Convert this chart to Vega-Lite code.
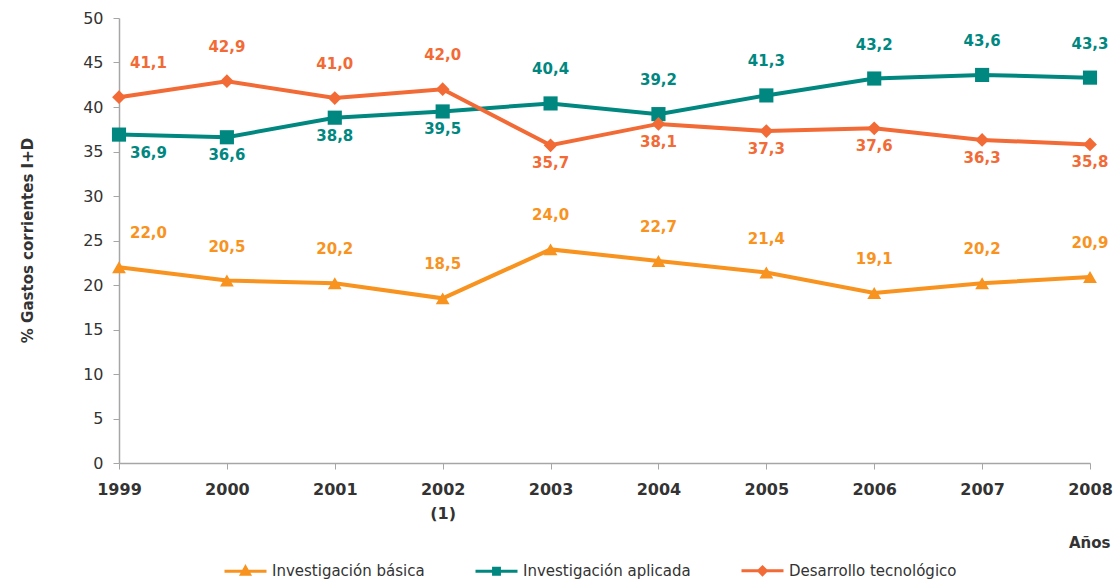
{
  "$schema": "https://vega.github.io/schema/vega-lite/v6.json",
  "width": 971,
  "height": 445,
  "autosize": "none",
  "padding": {"left": 119, "top": 18, "right": 30, "bottom": 116},
  "background": "white",
  "config": {
    "view": {"stroke": null},
    "font": "DejaVu Sans",
    "locale": {"number": {"decimal": ",", "thousands": ".", "grouping": [3], "currency": ["", " €"]}}
  },
  "data": {"values": [
    {"anio": "1999", "serie": "Investigación básica", "v": 22.0},
    {"anio": "2000", "serie": "Investigación básica", "v": 20.5},
    {"anio": "2001", "serie": "Investigación básica", "v": 20.2},
    {"anio": "2002", "serie": "Investigación básica", "v": 18.5},
    {"anio": "2003", "serie": "Investigación básica", "v": 24.0},
    {"anio": "2004", "serie": "Investigación básica", "v": 22.7},
    {"anio": "2005", "serie": "Investigación básica", "v": 21.4},
    {"anio": "2006", "serie": "Investigación básica", "v": 19.1},
    {"anio": "2007", "serie": "Investigación básica", "v": 20.2},
    {"anio": "2008", "serie": "Investigación básica", "v": 20.9},
    {"anio": "1999", "serie": "Investigación aplicada", "v": 36.9},
    {"anio": "2000", "serie": "Investigación aplicada", "v": 36.6},
    {"anio": "2001", "serie": "Investigación aplicada", "v": 38.8},
    {"anio": "2002", "serie": "Investigación aplicada", "v": 39.5},
    {"anio": "2003", "serie": "Investigación aplicada", "v": 40.4},
    {"anio": "2004", "serie": "Investigación aplicada", "v": 39.2},
    {"anio": "2005", "serie": "Investigación aplicada", "v": 41.3},
    {"anio": "2006", "serie": "Investigación aplicada", "v": 43.2},
    {"anio": "2007", "serie": "Investigación aplicada", "v": 43.6},
    {"anio": "2008", "serie": "Investigación aplicada", "v": 43.3},
    {"anio": "1999", "serie": "Desarrollo tecnológico", "v": 41.1},
    {"anio": "2000", "serie": "Desarrollo tecnológico", "v": 42.9},
    {"anio": "2001", "serie": "Desarrollo tecnológico", "v": 41.0},
    {"anio": "2002", "serie": "Desarrollo tecnológico", "v": 42.0},
    {"anio": "2003", "serie": "Desarrollo tecnológico", "v": 35.7},
    {"anio": "2004", "serie": "Desarrollo tecnológico", "v": 38.1},
    {"anio": "2005", "serie": "Desarrollo tecnológico", "v": 37.3},
    {"anio": "2006", "serie": "Desarrollo tecnológico", "v": 37.6},
    {"anio": "2007", "serie": "Desarrollo tecnológico", "v": 36.3},
    {"anio": "2008", "serie": "Desarrollo tecnológico", "v": 35.8}
  ]},
  "encoding": {
    "x": {
      "field": "anio", "type": "ordinal",
      "scale": {"type": "point", "padding": 0},
      "axis": {
        "title": "Años", "titleX": 991, "titleY": 79, "titleAlign": "right", "titleBaseline": "middle",
        "titleFontSize": 15, "titleFontWeight": "bold", "titleColor": "#333333",
        "labelAngle": 0, "labelFontSize": 16, "labelFontWeight": "bold", "labelColor": "#333333",
        "labelPadding": 12, "labelLineHeight": 24,
        "labelExpr": "datum.value == '2002' ? ['2002', '(1)'] : datum.value",
        "tickSize": 6, "tickColor": "#A6A6A6", "domainColor": "#A6A6A6", "domainWidth": 1.5, "grid": false
      }
    },
    "y": {
      "field": "v", "type": "quantitative",
      "scale": {"domain": [0, 50], "nice": false},
      "axis": {
        "title": "% Gastos corrientes I+D", "titleX": -92, "titleY": 222, "titleAngle": -90,
        "titleAlign": "center", "titleBaseline": "middle",
        "titleFontSize": 15, "titleFontWeight": "bold", "titleColor": "#333333",
        "values": [0, 5, 10, 15, 20, 25, 30, 35, 40, 45, 50],
        "labelFontSize": 16, "labelColor": "#333333", "labelPadding": 10,
        "tickSize": 6, "tickColor": "#A6A6A6", "domainColor": "#A6A6A6", "domainWidth": 1.5, "grid": false
      }
    },
    "color": {
      "field": "serie", "type": "nominal",
      "scale": {
        "domain": ["Investigación básica", "Investigación aplicada", "Desarrollo tecnológico"],
        "range": ["#F7931E", "#00877F", "#F26A35"]
      },
      "legend": {
        "title": null, "orient": "none", "direction": "horizontal", "legendX": 104, "legendY": 530,
        "labelFontSize": 15, "labelColor": "#333333", "labelOffset": 4, "labelLimit": 300, "columnPadding": 44,
        "symbolSize": 1764, "symbolStrokeWidth": 3,
        "encode": {
          "symbols": {"update": {
            "shape": {"signal": "datum.value == 'Investigación básica' ? 'M-1,0H1M0,-0.19L0.19,0.15L-0.19,0.15Z' : datum.value == 'Investigación aplicada' ? 'M-1,0H1M-0.14,-0.14H0.14V0.14H-0.14Z' : 'M-1,0H1M0,-0.18L0.18,0L0,0.18L-0.18,0Z'"},
            "fill": {"scale": "color", "field": "value"},
            "stroke": {"scale": "color", "field": "value"},
            "strokeWidth": {"value": 3},
            "opacity": {"value": 1}
          }}
        }
      }
    }
  },
  "layer": [
    {"mark": {"type": "line", "strokeWidth": 4}},
    {
      "transform": [{"filter": "datum.serie == 'Investigación básica'"}],
      "mark": {"type": "point", "filled": true, "size": 190, "opacity": 1, "shape": "triangle-up"}
    },
    {
      "transform": [{"filter": "datum.serie == 'Investigación aplicada'"}],
      "mark": {"type": "point", "filled": true, "size": 200, "opacity": 1, "shape": "square"}
    },
    {
      "transform": [{"filter": "datum.serie == 'Desarrollo tecnológico'"}],
      "mark": {"type": "point", "filled": true, "size": 190, "opacity": 1, "shape": "diamond"}
    },
    {
      "transform": [{"filter": "datum.anio != '1999' && (datum.serie == 'Investigación básica' || (datum.serie == 'Investigación aplicada' && toNumber(datum.anio) >= 2003) || (datum.serie == 'Desarrollo tecnológico' && toNumber(datum.anio) < 2003))"}],
      "mark": {"type": "text", "dy": -34, "fontSize": 15, "fontWeight": "bold", "baseline": "middle"},
      "encoding": {"text": {"field": "v", "type": "quantitative", "format": ".1f"}}
    },
    {
      "transform": [{"filter": "(datum.serie == 'Investigación aplicada' && toNumber(datum.anio) < 2003 && datum.anio != '1999') || (datum.serie == 'Desarrollo tecnológico' && toNumber(datum.anio) >= 2003)"}],
      "mark": {"type": "text", "dy": 18, "fontSize": 15, "fontWeight": "bold", "baseline": "middle"},
      "encoding": {"text": {"field": "v", "type": "quantitative", "format": ".1f"}}
    },
    {
      "transform": [{"filter": "datum.anio == '1999' && datum.serie != 'Investigación aplicada'"}],
      "mark": {"type": "text", "dy": -34, "dx": 11, "align": "left", "fontSize": 15, "fontWeight": "bold", "baseline": "middle"},
      "encoding": {"text": {"field": "v", "type": "quantitative", "format": ".1f"}}
    },
    {
      "transform": [{"filter": "datum.anio == '1999' && datum.serie == 'Investigación aplicada'"}],
      "mark": {"type": "text", "dy": 18, "dx": 11, "align": "left", "fontSize": 15, "fontWeight": "bold", "baseline": "middle"},
      "encoding": {"text": {"field": "v", "type": "quantitative", "format": ".1f"}}
    }
  ]
}
